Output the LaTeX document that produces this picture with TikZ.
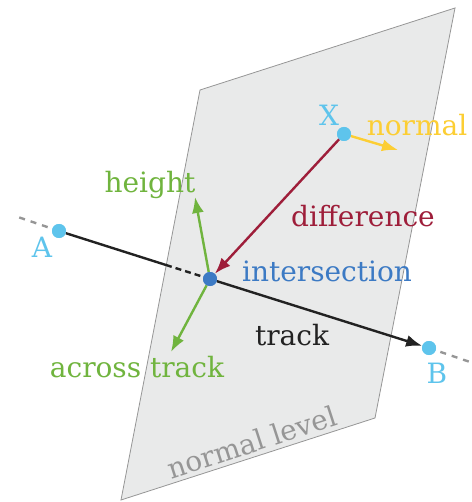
\documentclass[tikz,border=0pt]{standalone}
\usepackage{fontspec}
\setmainfont{DejaVu Serif}
\usetikzlibrary{arrows.meta}
\definecolor{planefill}{RGB}{233,234,234}
\definecolor{planeedge}{RGB}{150,150,150}
\definecolor{pointblue}{RGB}{94,196,236}
\definecolor{isblue}{RGB}{60,122,196}
\definecolor{diffred}{RGB}{158,30,58}
\definecolor{heightgreen}{RGB}{112,180,62}
\definecolor{normalyellow}{RGB}{252,206,52}
\definecolor{trackblack}{RGB}{34,34,34}
\tikzset{
  lbl/.style={font=\fontsize{28}{30}\selectfont, inner sep=0pt},
  dot/.style={circle, fill=#1, inner sep=0pt, minimum size=14pt},
  vec/.style={line width=2.4pt, -{Latex[length=16pt, width=12pt]}}
}

\begin{document}
\begin{tikzpicture}[x=1pt, y=-1pt]
    \useasboundingbox (0,0) rectangle (471,502);

    % the plane
    \fill[planefill] (455,8) -- (200,90) -- (121,500) -- (375,418) -- cycle;
    \draw[planeedge, line width=0.8pt] (455,8) -- (200,90) -- (121,500) -- (375,418) -- cycle;

    \coordinate (Aout) at (15,216);
    \coordinate (Bout) at (470,362);
    \coordinate (P) at (166,265);
    \coordinate (Nend) at (398,150);
    \coordinate (Hend) at (195,197);
    \coordinate (Cend) at (171,352);

    \node[dot=pointblue] (A) at (59,231) {};
    \node[dot=pointblue] (B) at (429,348) {};
    \node[dot=pointblue] (X) at (344,134) {};
    \node[dot=isblue] (I) at (210,279) {};

    % track
    \draw[planeedge, line width=2.4pt, dash pattern=on 6pt off 6pt] (A.center) -- (Aout);
    \draw[planeedge, line width=2.4pt, dash pattern=on 6pt off 6pt] (B.center) -- (Bout);
    \draw[trackblack, line width=2.4pt] (A) -- (P);
    \draw[trackblack, line width=2.4pt, dash pattern=on 6pt off 4pt] (P) -- (I);
    \draw[trackblack, vec] (I) -- (B);

    % vectors
    \draw[normalyellow, vec] (X) -- (Nend);
    \draw[diffred, vec] (X) -- (I);
    \draw[heightgreen, vec] (I) -- (Hend);
    \draw[heightgreen, vec] (I) -- (Cend);

    \node[dot=pointblue] at (A) {};
    \node[dot=pointblue] at (B) {};
    \node[dot=pointblue] at (X) {};
    \node[dot=isblue] at (I) {};

    % labels
    \node[lbl, pointblue] (Alabel) at (42,247) {A};
    \node[lbl, pointblue] (Blabel) at (437,373) {B};
    \node[lbl, pointblue] (Xlabel) at (329,115) {X};
    \node[lbl, normalyellow] (normallabel) at (417,125) {normal};
    \node[lbl, diffred] (difflabel) at (363,216) {difference};
    \node[lbl, isblue] (islabel) at (327,271) {intersection};
    \node[lbl, heightgreen] (heightlabel) at (150,185) {height};
    \node[lbl, heightgreen] (acrosslabel) at (137,367) {across track};
    \node[lbl, trackblack] (tracklabel) at (292,335) {track};
    \node[lbl, planeedge, rotate=18] (levellabel) at (252,442) {normal level};
\end{tikzpicture}
\end{document}
